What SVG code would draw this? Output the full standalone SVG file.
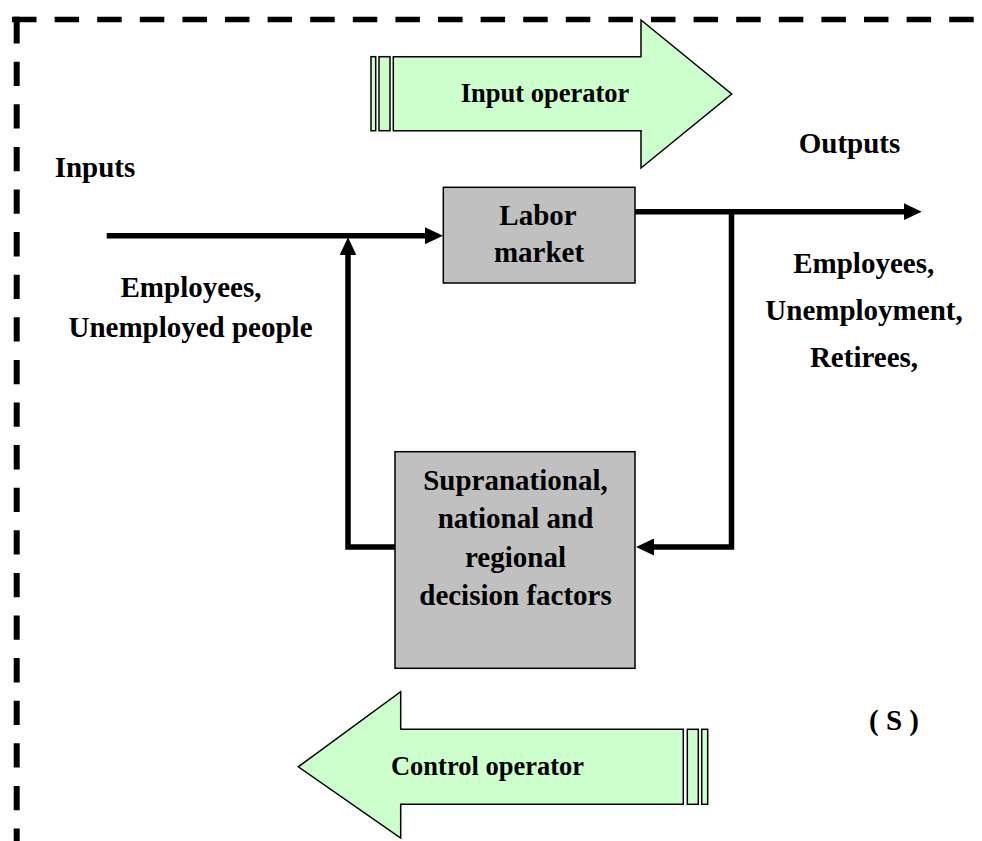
<svg xmlns="http://www.w3.org/2000/svg" width="982" height="841" viewBox="0 0 982 841">
<defs>
<style>
.t{font-family:"Liberation Serif","Times New Roman",serif;font-weight:bold;font-size:29px;fill:#000;text-anchor:middle}
.ta{font-size:26.5px}
.box{fill:#c0c0c0;stroke:#000;stroke-width:1.5}
.op{fill:#ccffcc;stroke:#000;stroke-width:1.5;stroke-linejoin:miter}
.c{fill:none;stroke:#000;stroke-width:5.5;stroke-linejoin:miter}
.border{stroke:#000;fill:none}
</style>
<marker id="ah" markerUnits="userSpaceOnUse" markerWidth="18" markerHeight="17" refX="9" refY="8.5" orient="auto">
<path d="M0,0 L18,8.5 L0,17 Z" fill="#000"/>
</marker>
</defs>
<rect width="982" height="841" fill="#fff"/>
<g id="border">
<line class="border" x1="12" y1="19.5" x2="982" y2="19.5" stroke-width="5.5" stroke-dasharray="24.5 18.1"/>
<line class="border" x1="16.7" y1="19.1" x2="16.7" y2="841" stroke-width="6" stroke-dasharray="24.3 18.3"/>
<line class="border" x1="16.7" y1="16.7" x2="16.7" y2="22" stroke-width="6"/>
</g>
<g id="input-operator">
<rect class="op" x="371" y="56.7" width="4.7" height="74"/>
<rect class="op" x="379" y="56.7" width="11" height="74"/>
<path class="op" d="M393.3,56.7 H641 V20 L731.7,94 L641,168 V130.7 H393.3 Z"/>
<text class="t ta" x="545" y="102">Input operator</text>
</g>
<g id="control-operator">
<rect class="op" x="701.7" y="729.3" width="6" height="75"/>
<rect class="op" x="687.3" y="729.3" width="11" height="75"/>
<path class="op" d="M683.3,729.3 H400.7 V691.7 L298.3,766.8 L400.7,838 V804.3 H683.3 Z"/>
<text class="t ta" x="487.5" y="775">Control operator</text>
</g>
<g id="connectors">
<path class="c" d="M106.7,235.7 H434" marker-end="url(#ah)"/>
<path class="c" d="M635,211.7 H912.7" marker-end="url(#ah)"/>
<path class="c" d="M731.5,211.7 V547 H645" marker-end="url(#ah)"/>
<path class="c" d="M395,547 H348 V246.3" marker-end="url(#ah)"/>
</g>
<g id="labor-market">
<rect class="box" x="443.3" y="187.3" width="191.7" height="95.7"/>
<text class="t" x="538" y="225">Labor</text>
<text class="t" x="539" y="261.7">market</text>
</g>
<g id="decision-factors">
<rect class="box" x="395" y="451.7" width="240" height="216.6"/>
<text class="t" x="515.5" y="490">Supranational,</text>
<text class="t" x="515.5" y="528.3">national and</text>
<text class="t" x="515.5" y="566.7">regional</text>
<text class="t" x="515.5" y="605">decision factors</text>
</g>
<g id="inputs">
<text class="t" x="95" y="177" style="text-anchor:middle">Inputs</text>
<text class="t" x="191" y="296.7">Employees,</text>
<text class="t" x="190.5" y="336.7">Unemployed people</text>
</g>
<g id="outputs">
<text class="t" x="849.5" y="153">Outputs</text>
<text class="t" x="863.7" y="273.3">Employees,</text>
<text class="t" x="864" y="320">Unemployment,</text>
<text class="t" x="864" y="366.7">Retirees,</text>
</g>
<g id="system-label">
<text class="t" x="894" y="730">( S )</text>
</g>
</svg>
